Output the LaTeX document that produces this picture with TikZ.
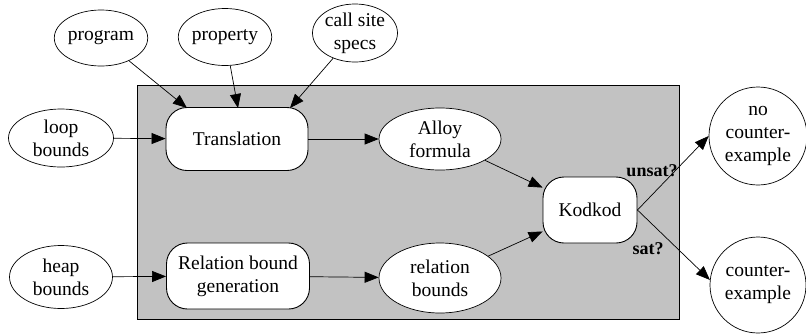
\documentclass[tikz,border=0pt]{standalone}
\usepackage{fontspec}
\setmainfont{Liberation Serif}
\usetikzlibrary{shapes.geometric,arrows.meta}
\begin{document}
\begin{tikzpicture}[x=1pt,y=-1pt,
  font=\fontsize{19.5}{23}\selectfont,
  ell/.style={ellipse,draw,fill=white,line width=0.7pt,inner sep=0pt,align=center},
  rbox/.style={rectangle,rounded corners=21pt,draw,fill=white,line width=0.9pt,align=center},
  circ/.style={circle,draw,fill=white,line width=0.7pt,inner sep=0pt,align=center},
  arr/.style={line width=0.7pt,-{Triangle[length=14pt,width=11pt]}},
  lbl/.style={font=\fontsize{18}{19}\selectfont\bfseries}]
\useasboundingbox (0,0) rectangle (806,333);
\node[draw,fill=black!24,line width=0.9pt,minimum width=542pt,minimum height=234pt,inner sep=0pt] (bg) at (408,202) {};
\node[ell,minimum width=86pt,minimum height=56pt] (prog) at (101,38) {program};
\node[ell,minimum width=77pt,minimum height=57pt] (prop) at (225,37) {property};
\node[ell,minimum width=85pt,minimum height=58pt] (call) at (355,33) {call site\\specs};
\node[ell,minimum width=105pt,minimum height=58pt] (loop) at (61,138) {loop\\bounds};
\node[ell,minimum width=103pt,minimum height=63pt] (heap) at (61,277) {heap\\bounds};
\node[rbox,minimum width=142pt,minimum height=63pt] (trans) at (237,139) {Translation};
\node[rbox,minimum width=143pt,minimum height=66pt] (rbg) at (238,276) {Relation bound\\generation};
\node[ell,minimum width=122pt,minimum height=62pt] (alloy) at (440,139) {Alloy\\formula};
\node[ell,minimum width=122pt,minimum height=70pt] (rel) at (440,278) {relation\\bounds};
\node[rbox,minimum width=94pt,minimum height=66pt] (kod) at (590,210) {Kodkod};
\node[circ,minimum size=98pt] (nocx) at (758,136) {no\\counter-\\example};
\node[circ,minimum size=96pt] (cx) at (758,285) {counter-\\example};
\draw[arr] (prog) -- (187,108);
\draw[arr] (prop) -- (238,108);
\draw[arr] (call) -- (290,108);
\draw[arr] (loop) -- (trans);
\draw[arr] (heap) -- (rbg);
\draw[arr] (trans) -- (alloy);
\draw[arr] (rbg) -- (rel);
\draw[arr] (alloy) -- (kod);
\draw[arr] (rel) -- (kod);
\draw[arr] (kod.east) -- (nocx.west);
\draw[arr] (kod.east) -- (cx.174);
\node[lbl] (unsat) at (652,171) {unsat?};
\node[lbl] (sat) at (648,249) {sat?};
\end{tikzpicture}
\end{document}
